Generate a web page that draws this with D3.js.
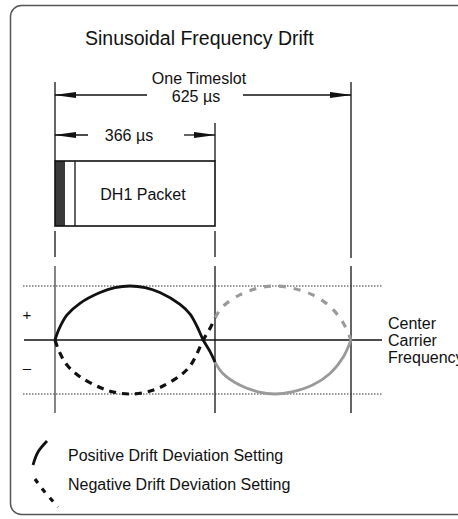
<!DOCTYPE html>
<html>
<head>
<meta charset="utf-8">
<script src="https://cdn.jsdelivr.net/npm/d3@7"></script>
<style>
  body { margin: 0; background: #fff; }
  text { font-family: "Liberation Sans", Arial, sans-serif; fill: #111; }
</style>
</head>
<body>
<div id="chart"></div>
<script>
// time marks (µs): slot start, packet end, slot end
const timeMarks = [0, 366, 625];
const packetLabel = "366 µs";
const slotLabel = ["One Timeslot", "625 µs"];
// drift, +1 = upper dotted limit, -1 = lower
const driftTime = [0, 9, 27, 57, 103, 137, 172, 206, 240, 286, 309, 325, 339, 355, 366,
  381, 414, 448, 480, 513, 551, 585, 610, 625];
const driftValue = [0, 0.2, 0.46, 0.68, 0.88, 0.97, 1, 0.97, 0.88, 0.66, 0.48, 0.25, 0, -0.22, -0.41,
  -0.62, -0.84, -0.96, -1, -0.96, -0.84, -0.62, -0.32, 0];
const legendLabels = ["Positive Drift Deviation Setting", "Negative Drift Deviation Setting"];
const centerLabel = ["Center", "Carrier", "Frequency"];

const width = 458, height = 519;
const svg = d3.select("#chart").append("svg").attr("width", width).attr("height", height);

// schematic time axis (not to scale, packet end sits at the drawn line)
const x = d3.scaleLinear().domain(timeMarks).range([55, 215, 351]);
const y = d3.scaleLinear().domain([-1, 1]).range([394, 286]);

const defs = svg.append("defs");
defs.append("marker")
  .attr("id", "arr")
  .attr("viewBox", "0 -4 22 8")
  .attr("refX", 21).attr("refY", 0)
  .attr("markerWidth", 22).attr("markerHeight", 8)
  .attr("markerUnits", "userSpaceOnUse")
  .attr("orient", "auto")
  .append("path").attr("d", "M0,-3L22,0L0,3Z").attr("fill", "#111");

// frame
svg.append("rect")
  .attr("x", 10.5).attr("y", 5.5).attr("width", 480).attr("height", 509)
  .attr("rx", 11).attr("fill", "none").attr("stroke", "#555").attr("stroke-width", 1.5);

svg.append("text").attr("x", 85).attr("y", 45).attr("font-size", 19.5).text("Sinusoidal Frequency Drift");

/* ---------- dimension arrows ---------- */
const dim = svg.append("g").attr("stroke", "#111").attr("stroke-width", 1.3);
// timeslot
dim.append("line").attr("x1", x(0)).attr("x2", x(0)).attr("y1", 82).attr("y2", 161);
dim.append("line").attr("x1", x(625)).attr("x2", x(625)).attr("y1", 82).attr("y2", 258);
dim.append("line").attr("x1", 147).attr("x2", x(0)).attr("y1", 95).attr("y2", 95).attr("marker-end", "url(#arr)");
dim.append("line").attr("x1", 243).attr("x2", x(625)).attr("y1", 95).attr("y2", 95).attr("marker-end", "url(#arr)");
// packet
dim.append("line").attr("x1", x(366)).attr("x2", x(366)).attr("y1", 123).attr("y2", 161);
dim.append("line").attr("x1", 88).attr("x2", x(0)).attr("y1", 135).attr("y2", 135).attr("marker-end", "url(#arr)");
dim.append("line").attr("x1", 184).attr("x2", x(366)).attr("y1", 135).attr("y2", 135).attr("marker-end", "url(#arr)");

svg.append("text").attr("x", 199).attr("y", 84).attr("text-anchor", "middle").attr("font-size", 16).text(slotLabel[0]);
svg.append("text").attr("x", 196).attr("y", 102).attr("text-anchor", "middle").attr("font-size", 16).text(slotLabel[1]);
svg.append("text").attr("x", 129).attr("y", 141).attr("text-anchor", "middle").attr("font-size", 16).text(packetLabel);

/* ---------- DH1 packet ---------- */
svg.append("rect").attr("x", x(0)).attr("y", 161).attr("width", 10).attr("height", 65).attr("fill", "#3a3a3a");
svg.append("line").attr("x1", x(0) + 20).attr("x2", x(0) + 20).attr("y1", 161).attr("y2", 226)
  .attr("stroke", "#111").attr("stroke-width", 1.3);
svg.append("rect").attr("x", x(0)).attr("y", 161).attr("width", x(366) - x(0)).attr("height", 65)
  .attr("fill", "none").attr("stroke", "#111").attr("stroke-width", 1.6);
svg.append("text").attr("x", 143).attr("y", 200).attr("text-anchor", "middle").attr("font-size", 16).text("DH1 Packet");

/* ---------- drift plot ---------- */
const grid = svg.append("g");
timeMarks.forEach((t, i) => {
  if (i < 2) {
    grid.append("line").attr("x1", x(t)).attr("x2", x(t)).attr("y1", 231).attr("y2", 257)
      .attr("stroke", "#111").attr("stroke-width", 1.3);
  }
  grid.append("line").attr("x1", x(t)).attr("x2", x(t)).attr("y1", 266).attr("y2", 413)
    .attr("stroke", i === 0 ? "#444" : "#111").attr("stroke-width", 1.3);
});
[1, -1].forEach((v) => {
  grid.append("line").attr("x1", 23).attr("x2", 382).attr("y1", y(v)).attr("y2", y(v))
    .attr("stroke", "#333").attr("stroke-width", 1).attr("stroke-dasharray", "1.5,1.5");
});
grid.append("line").attr("x1", 24).attr("x2", 382).attr("y1", y(0)).attr("y2", y(0))
  .attr("stroke", "#111").attr("stroke-width", 1.3);

svg.append("text").attr("x", 27).attr("y", 320).attr("text-anchor", "middle").attr("font-size", 15).text("+");
svg.append("text").attr("x", 27).attr("y", 373).attr("text-anchor", "middle").attr("font-size", 15).text("–");

centerLabel.forEach((s, i) => {
  svg.append("text").attr("x", 388).attr("y", 329 + i * 17).attr("font-size", 16).text(s);
});

const pts = driftTime.map((t, i) => ({ t: t, v: driftValue[i] }));
const first = pts.filter((d) => d.t <= 366);
const second = pts.filter((d) => d.t >= 366);

const line = (sign) => d3.line().x((d) => x(d.t)).y((d) => y(sign * d.v)).curve(d3.curveCatmullRom.alpha(0.5));

// grey part after the packet
svg.append("path").datum(second).attr("d", line(1)).attr("fill", "none")
  .attr("stroke", "#9a9a9a").attr("stroke-width", 2.8);
svg.append("path").datum(second).attr("d", line(-1)).attr("fill", "none")
  .attr("stroke", "#9a9a9a").attr("stroke-width", 3.2).attr("stroke-dasharray", "7,8");
// black part during the packet
svg.append("path").datum(first).attr("d", line(1)).attr("fill", "none")
  .attr("stroke", "#111").attr("stroke-width", 2.8);
svg.append("path").datum(first).attr("d", line(-1)).attr("fill", "none")
  .attr("stroke", "#111").attr("stroke-width", 3.2).attr("stroke-dasharray", "7,6");

/* ---------- legend ---------- */
const glyph = d3.line().curve(d3.curveNatural);
const leg = svg.append("g");
legendLabels.forEach((s, i) => {
  const g = leg.append("g").attr("transform", `translate(33,${i === 0 ? 441 : 479})`);
  if (i === 0) {
    g.append("path").attr("d", glyph([[0, 24], [5, 11], [14, 0]]))
      .attr("fill", "none").attr("stroke", "#111").attr("stroke-width", 2.8);
  } else {
    g.append("path").attr("d", glyph([[2, 0], [11, 12], [25, 28]]))
      .attr("fill", "none").attr("stroke", "#111").attr("stroke-width", 3.2).attr("stroke-dasharray", "5,7");
  }
  g.append("text").attr("x", 35).attr("y", i === 0 ? 20 : 11).attr("font-size", 16).text(s);
});
</script>
</body>
</html>
